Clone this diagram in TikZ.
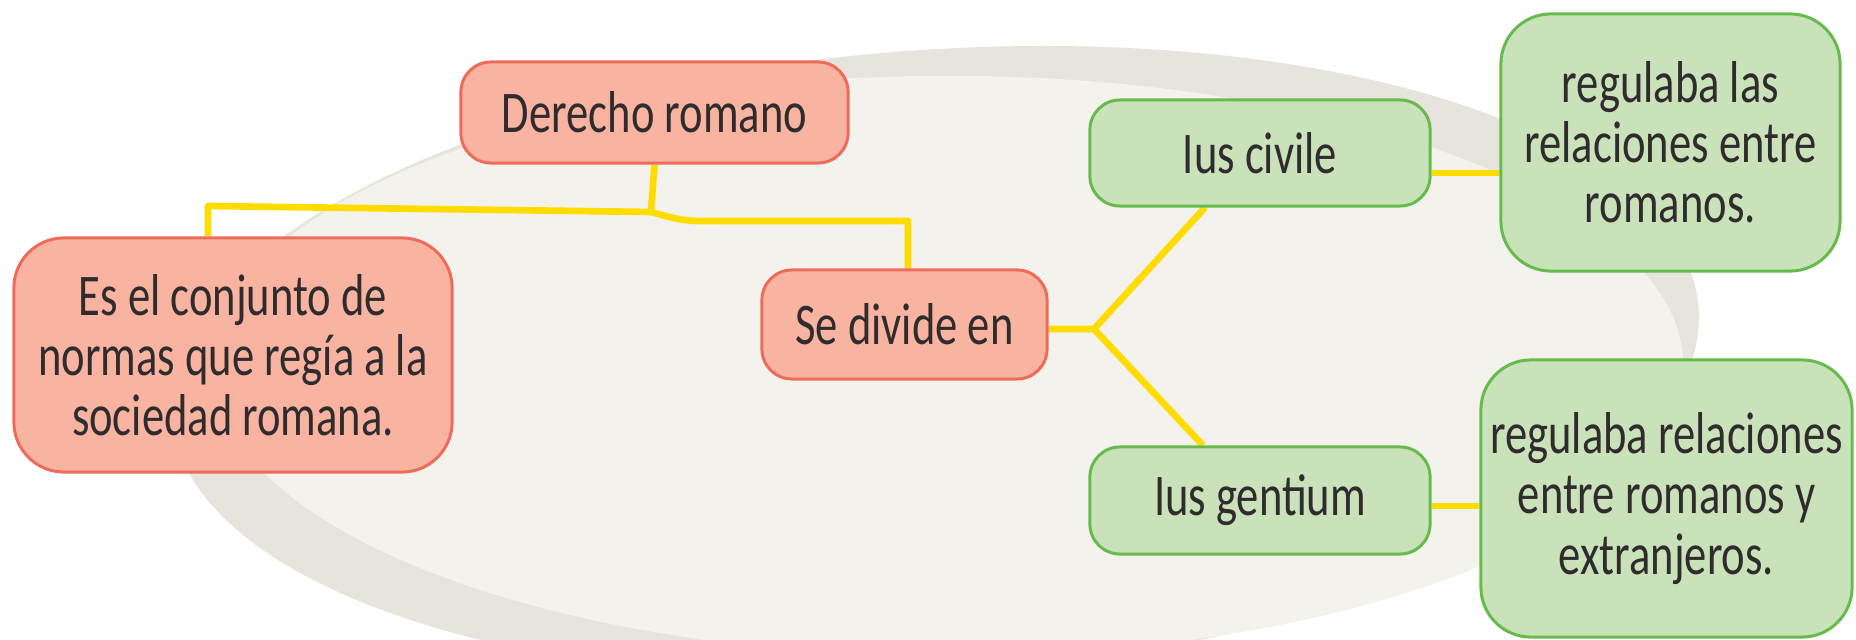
\documentclass[tikz,border=0pt]{standalone}
\usepackage{fontspec}
\setmainfont{Carlito}[FakeStretch=0.755]
\usetikzlibrary{backgrounds}
\definecolor{salfill}{HTML}{F8B4A1}
\definecolor{salline}{HTML}{EE6B5C}
\definecolor{grfill}{HTML}{C9E2BA}
\definecolor{grline}{HTML}{66BB4C}
\definecolor{linkyellow}{HTML}{FFDC00}
\definecolor{shadowgrey}{HTML}{E7E3DD}
\definecolor{lightbg}{HTML}{F3F2EC}
\definecolor{txt}{HTML}{302C2E}
\begin{document}
\begin{tikzpicture}[x=0.01cm,y=-0.01cm,
  box/.style={draw, line width=0.85pt, rounded corners=0.3cm, inner sep=0pt, align=center,
    font=\fontsize{16.8}{17.1}\selectfont, text=txt},
  redbox/.style={box, fill=salfill, draw=salline},
  greenbox/.style={box, fill=grfill, draw=grline},
  bigcorner/.style={rounded corners=0.5cm},
  link/.style={draw=linkyellow, line width=1.9pt, line join=round}]
\useasboundingbox (0,0) rectangle (1856,640);

\node[redbox, minimum width=3.87cm, minimum height=1.01cm] (D) at (654.5,112.5) {Derecho romano};
\node[redbox, bigcorner, minimum width=4.38cm, minimum height=2.34cm] (E) at (233,355) {Es el conjunto de\\normas que regía a la\\sociedad romana.};
\node[redbox, minimum width=2.85cm, minimum height=1.09cm] (S) at (904.5,324.5) {Se divide en};
\node[greenbox, minimum width=3.40cm, minimum height=1.06cm] (C) at (1260,153) {Ius civile};
\node[greenbox, minimum width=3.40cm, minimum height=1.07cm] (G) at (1260,500.5) {Ius gentium};
\node[greenbox, bigcorner, minimum width=3.39cm, minimum height=2.57cm] (R1) at (1670.5,142.5) {regulaba las\\relaciones entre\\romanos.};
\node[greenbox, bigcorner, minimum width=3.71cm, minimum height=2.77cm] (R2) at (1666.5,498.5) {regulaba relaciones\\entre romanos y\\extranjeros.};

\coordinate (J1) at (651,212);
\coordinate (L1) at (208,206);
\coordinate (K) at (700,221);
\coordinate (Sb) at (908,221);
\coordinate (J2) at (1094,329);
\coordinate (Cx) at (1205,0);
\coordinate (Gx) at (1203,0);
\coordinate (Y1) at (0,173);
\coordinate (Y2) at (0,506);

\begin{pgfonlayer}{background}
\fill[shadowgrey, rotate around={4:(935,362)}] (935,362) ellipse [x radius=7.65cm, y radius=3.12cm];
\fill[lightbg] (948,366) ellipse [x radius=7.35cm, y radius=2.90cm];
\draw[link] (D.south) -- (J1);
\draw[link] (J1) -- (L1) -- (L1 |- E.north);
\draw[link] (J1) to[out=-15, in=180] (K) -- (Sb) -- (Sb |- S.north);
\draw[link] (S.east |- J2) -- (J2) -- (Cx |- C.south);
\draw[link] (J2) -- (Gx |- G.north);
\draw[link] (C.east |- Y1) -- (R1.west |- Y1);
\draw[link] (G.east |- Y2) -- (R2.west |- Y2);
\end{pgfonlayer}
\end{tikzpicture}
\end{document}
